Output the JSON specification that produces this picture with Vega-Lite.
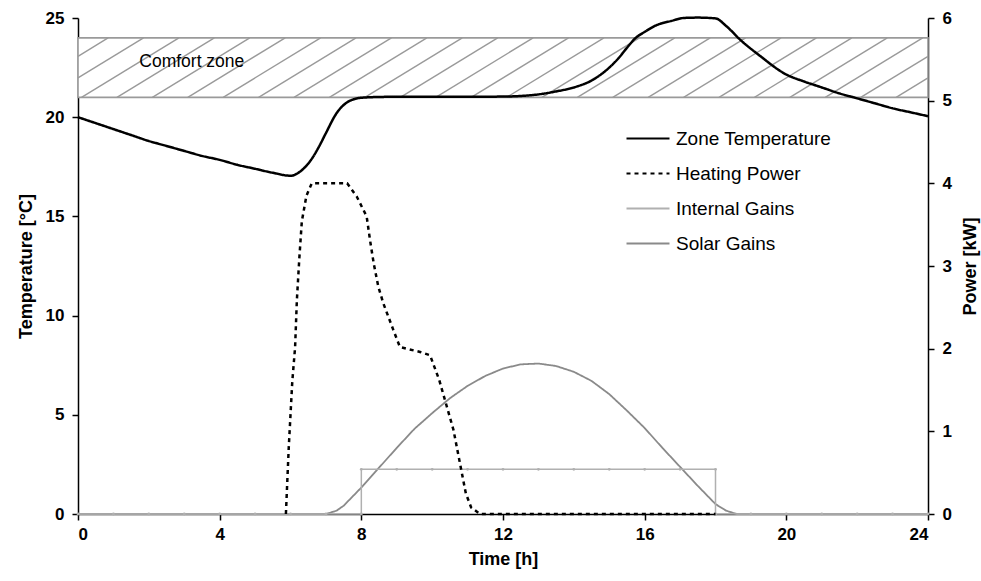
{
  "$schema": "https://vega.github.io/schema/vega-lite/v6.json",
  "width": 850,
  "height": 496,
  "autosize": {"type": "none"},
  "padding": {"left": 78, "top": 18, "right": 53, "bottom": 67},
  "background": "white",
  "config": {
    "view": {"stroke": null},
    "font": "Liberation Sans",
    "axis": {
      "grid": false,
      "domainColor": "#000",
      "domainWidth": 1.5,
      "tickColor": "#000",
      "tickWidth": 1.5,
      "tickSize": 6,
      "labelColor": "#000",
      "labelFont": "Liberation Sans",
      "labelFontSize": 17,
      "labelFontWeight": "bold",
      "titleColor": "#000",
      "titleFont": "Liberation Sans",
      "titleFontSize": 18,
      "titleFontWeight": "bold"
    },
    "legend": {
      "labelFont": "Liberation Sans",
      "labelFontSize": 19,
      "labelColor": "#000"
    }
  },
  "datasets": {
    "temp": [
      {"t": 0, "v": 20.0}, {"t": 0.5, "v": 19.7}, {"t": 1, "v": 19.4}, {"t": 1.5, "v": 19.1},
      {"t": 2, "v": 18.8}, {"t": 2.5, "v": 18.55}, {"t": 3, "v": 18.3}, {"t": 3.5, "v": 18.05},
      {"t": 4, "v": 17.85}, {"t": 4.5, "v": 17.6}, {"t": 5, "v": 17.4}, {"t": 5.5, "v": 17.2},
      {"t": 6, "v": 17.05}, {"t": 6.3, "v": 17.3}, {"t": 6.6, "v": 17.9}, {"t": 6.8, "v": 18.5},
      {"t": 7.0, "v": 19.2}, {"t": 7.3, "v": 20.2}, {"t": 7.6, "v": 20.75}, {"t": 8, "v": 20.98},
      {"t": 8.5, "v": 21.02}, {"t": 9, "v": 21.03}, {"t": 10, "v": 21.03}, {"t": 11, "v": 21.03},
      {"t": 12, "v": 21.04}, {"t": 12.5, "v": 21.07}, {"t": 13, "v": 21.15}, {"t": 13.5, "v": 21.3},
      {"t": 14, "v": 21.5}, {"t": 14.5, "v": 21.85}, {"t": 15, "v": 22.5}, {"t": 15.25, "v": 22.95},
      {"t": 15.5, "v": 23.5}, {"t": 15.75, "v": 24.0}, {"t": 16, "v": 24.3}, {"t": 16.35, "v": 24.65},
      {"t": 16.75, "v": 24.85}, {"t": 17.1, "v": 25.0}, {"t": 17.5, "v": 25.02}, {"t": 18.0, "v": 24.98},
      {"t": 18.3, "v": 24.6}, {"t": 18.7, "v": 23.9}, {"t": 19.25, "v": 23.1}, {"t": 20, "v": 22.15},
      {"t": 20.5, "v": 21.8}, {"t": 21, "v": 21.5}, {"t": 21.5, "v": 21.2}, {"t": 22, "v": 20.95},
      {"t": 22.5, "v": 20.7}, {"t": 23, "v": 20.45}, {"t": 23.5, "v": 20.25}, {"t": 24, "v": 20.05}
    ],
    "heating": [
      {"t": 5.87, "p": 0}, {"t": 5.95, "p": 0.8}, {"t": 6.05, "p": 1.6}, {"t": 6.13, "p": 2.02},
      {"t": 6.18, "p": 2.59}, {"t": 6.25, "p": 3.1}, {"t": 6.32, "p": 3.54}, {"t": 6.45, "p": 3.85},
      {"t": 6.6, "p": 4.0}, {"t": 7.6, "p": 4.0}, {"t": 7.87, "p": 3.84}, {"t": 8.15, "p": 3.6},
      {"t": 8.25, "p": 3.3}, {"t": 8.35, "p": 3.03}, {"t": 8.48, "p": 2.75}, {"t": 8.62, "p": 2.55},
      {"t": 8.9, "p": 2.23}, {"t": 9.09, "p": 2.02}, {"t": 9.66, "p": 1.96}, {"t": 9.94, "p": 1.92},
      {"t": 10.2, "p": 1.62}, {"t": 10.6, "p": 1.02}, {"t": 10.95, "p": 0.25}, {"t": 11.1, "p": 0.08},
      {"t": 11.35, "p": 0}, {"t": 18, "p": 0}
    ],
    "internal": [
      {"i": 0, "t": 0, "p": 0}, {"i": 1, "t": 1, "p": 0}, {"i": 2, "t": 2, "p": 0}, {"i": 3, "t": 3, "p": 0},
      {"i": 4, "t": 4, "p": 0}, {"i": 5, "t": 5, "p": 0}, {"i": 6, "t": 6, "p": 0}, {"i": 7, "t": 7, "p": 0},
      {"i": 8, "t": 8, "p": 0}, {"i": 9, "t": 8, "p": 0.54}, {"i": 10, "t": 9, "p": 0.54}, {"i": 11, "t": 10, "p": 0.54},
      {"i": 12, "t": 11, "p": 0.54}, {"i": 13, "t": 12, "p": 0.54}, {"i": 14, "t": 13, "p": 0.54}, {"i": 15, "t": 14, "p": 0.54},
      {"i": 16, "t": 15, "p": 0.54}, {"i": 17, "t": 16, "p": 0.54}, {"i": 18, "t": 17, "p": 0.54}, {"i": 19, "t": 18, "p": 0.54},
      {"i": 20, "t": 18, "p": 0}, {"i": 21, "t": 19, "p": 0}, {"i": 22, "t": 20, "p": 0}, {"i": 23, "t": 21, "p": 0},
      {"i": 24, "t": 22, "p": 0}, {"i": 25, "t": 23, "p": 0}, {"i": 26, "t": 24, "p": 0}
    ],
    "solar": [
      {"t": 0, "p": 0}, {"t": 2, "p": 0}, {"t": 4, "p": 0}, {"t": 6, "p": 0}, {"t": 7.0, "p": 0},
      {"t": 7.3, "p": 0.04}, {"t": 7.5, "p": 0.1}, {"t": 8, "p": 0.32}, {"t": 8.5, "p": 0.56},
      {"t": 9, "p": 0.8}, {"t": 9.5, "p": 1.03}, {"t": 10, "p": 1.22}, {"t": 10.5, "p": 1.4},
      {"t": 11, "p": 1.55}, {"t": 11.5, "p": 1.67}, {"t": 12, "p": 1.76}, {"t": 12.5, "p": 1.81},
      {"t": 13, "p": 1.82}, {"t": 13.5, "p": 1.79}, {"t": 14, "p": 1.72}, {"t": 14.5, "p": 1.61},
      {"t": 15, "p": 1.45}, {"t": 15.5, "p": 1.25}, {"t": 16, "p": 1.04}, {"t": 16.5, "p": 0.8},
      {"t": 17, "p": 0.57}, {"t": 17.5, "p": 0.34}, {"t": 18, "p": 0.12}, {"t": 18.3, "p": 0.04},
      {"t": 18.6, "p": 0}, {"t": 20, "p": 0}, {"t": 22, "p": 0}, {"t": 24, "p": 0}
    ],
    "hatch": [
      {"x1": 0, "y1": 23.07, "x2": 0.85, "y2": 24},
      {"x1": 0, "y1": 21.98, "x2": 1.85, "y2": 24},
      {"x1": 0.1, "y1": 21, "x2": 2.85, "y2": 24},
      {"x1": 1.1, "y1": 21, "x2": 3.85, "y2": 24},
      {"x1": 2.1, "y1": 21, "x2": 4.85, "y2": 24},
      {"x1": 3.1, "y1": 21, "x2": 5.85, "y2": 24},
      {"x1": 4.1, "y1": 21, "x2": 6.85, "y2": 24},
      {"x1": 5.1, "y1": 21, "x2": 7.85, "y2": 24},
      {"x1": 6.1, "y1": 21, "x2": 8.85, "y2": 24},
      {"x1": 7.1, "y1": 21, "x2": 9.85, "y2": 24},
      {"x1": 8.1, "y1": 21, "x2": 10.85, "y2": 24},
      {"x1": 9.1, "y1": 21, "x2": 11.85, "y2": 24},
      {"x1": 10.1, "y1": 21, "x2": 12.85, "y2": 24},
      {"x1": 11.1, "y1": 21, "x2": 13.85, "y2": 24},
      {"x1": 12.1, "y1": 21, "x2": 14.85, "y2": 24},
      {"x1": 13.1, "y1": 21, "x2": 15.85, "y2": 24},
      {"x1": 14.1, "y1": 21, "x2": 16.85, "y2": 24},
      {"x1": 15.1, "y1": 21, "x2": 17.85, "y2": 24},
      {"x1": 16.1, "y1": 21, "x2": 18.85, "y2": 24},
      {"x1": 17.1, "y1": 21, "x2": 19.85, "y2": 24},
      {"x1": 18.1, "y1": 21, "x2": 20.85, "y2": 24},
      {"x1": 19.1, "y1": 21, "x2": 21.85, "y2": 24},
      {"x1": 20.1, "y1": 21, "x2": 22.85, "y2": 24},
      {"x1": 21.1, "y1": 21, "x2": 23.85, "y2": 24},
      {"x1": 22.1, "y1": 21, "x2": 24, "y2": 23.07},
      {"x1": 23.1, "y1": 21, "x2": 24, "y2": 21.98}
    ],
    "zone": [{"x1": 0, "x2": 24, "y1": 21, "y2": 24, "label": "Comfort zone", "lx": 1.73, "ly": 22.77}]
  },
  "encoding": {
    "x": {
      "type": "quantitative",
      "scale": {"domain": [0, 24], "nice": false},
      "axis": {"values": [0, 4, 8, 12, 16, 20, 24], "title": "Time [h]", "labelPadding": 6, "titlePadding": 8}
    }
  },
  "layer": [
    {
      "layer": [
        {
          "data": {"name": "zone"},
          "mark": {"type": "rect", "fill": "white", "stroke": "#9a9a9a", "strokeWidth": 1.6},
          "encoding": {
            "x": {"field": "x1", "type": "quantitative"},
            "x2": {"field": "x2"},
            "y": {"field": "y1", "type": "quantitative", "scale": {"domain": [0, 25], "nice": false},
                  "axis": {"values": [0, 5, 10, 15, 20, 25], "title": "Temperature [°C]", "labelPadding": 8, "titlePadding": 10}},
            "y2": {"field": "y2"}
          }
        },
        {
          "data": {"name": "hatch"},
          "mark": {"type": "rule", "stroke": "#9a9a9a", "strokeWidth": 1.4},
          "encoding": {
            "x": {"field": "x1", "type": "quantitative"},
            "x2": {"field": "x2"},
            "y": {"field": "y1", "type": "quantitative"},
            "y2": {"field": "y2"}
          }
        },
        {
          "data": {"name": "zone"},
          "mark": {"type": "text", "align": "left", "baseline": "middle", "fontSize": 17.5, "font": "Liberation Sans", "color": "#000"},
          "encoding": {
            "x": {"field": "lx", "type": "quantitative"},
            "y": {"field": "ly", "type": "quantitative"},
            "text": {"field": "label"}
          }
        },
        {
          "data": {"name": "temp"},
          "transform": [{"calculate": "'Zone Temperature'", "as": "series"}],
          "mark": {"type": "line", "strokeWidth": 2.5, "interpolate": "monotone"},
          "encoding": {
            "x": {"field": "t", "type": "quantitative"},
            "y": {"field": "v", "type": "quantitative"},
            "color": {
              "field": "series", "type": "nominal",
              "scale": {"domain": ["Zone Temperature", "Heating Power", "Internal Gains", "Solar Gains"],
                        "range": ["#000000", "#000000", "#b0b0b0", "#8a8a8a"]},
              "legend": {
                "title": null, "orient": "none", "legendX": 547, "legendY": 103,
                "padding": 0, "symbolType": "stroke", "symbolSize": 1849, "symbolStrokeWidth": 2.2,
                "labelOffset": 5, "clipHeight": 35, "rowPadding": 0, "labelFontSize": 19, "labelLimit": 300
              }
            },
            "strokeDash": {
              "field": "series", "type": "nominal",
              "scale": {"domain": ["Zone Temperature", "Heating Power", "Internal Gains", "Solar Gains"],
                        "range": [[1, 0], [4, 4], [1, 0], [1, 0]]},
              "legend": {
                "title": null, "orient": "none", "legendX": 547, "legendY": 103,
                "padding": 0, "symbolType": "stroke", "symbolSize": 1849, "symbolStrokeWidth": 2.2,
                "labelOffset": 5, "clipHeight": 35, "rowPadding": 0, "labelFontSize": 19, "labelLimit": 300
              }
            }
          }
        }
      ]
    },
    {
      "encoding": {
        "y": {"type": "quantitative", "scale": {"domain": [0, 6], "nice": false},
              "axis": {"orient": "right", "values": [0, 1, 2, 3, 4, 5, 6], "title": "Power [kW]", "titleAngle": 270,
                       "titleX": 42, "titleY": 248, "titleAlign": "center", "titleBaseline": "middle", "labelPadding": 8}}
      },
      "layer": [
        {
          "data": {"name": "solar"},
          "transform": [{"calculate": "'Solar Gains'", "as": "series"}],
          "mark": {"type": "line", "strokeWidth": 1.8},
          "encoding": {
            "x": {"field": "t", "type": "quantitative"},
            "y": {"field": "p", "type": "quantitative"},
            "color": {"field": "series", "type": "nominal"},
            "strokeDash": {"field": "series", "type": "nominal"}
          }
        },
        {
          "data": {"name": "internal"},
          "transform": [{"calculate": "'Internal Gains'", "as": "series"}],
          "mark": {"type": "line", "strokeWidth": 1.5, "point": {"filled": true, "size": 8, "color": "#9a9a9a"}},
          "encoding": {
            "x": {"field": "t", "type": "quantitative"},
            "y": {"field": "p", "type": "quantitative"},
            "order": {"field": "i", "type": "quantitative"},
            "color": {"field": "series", "type": "nominal"},
            "strokeDash": {"field": "series", "type": "nominal"}
          }
        },
        {
          "data": {"name": "heating"},
          "transform": [{"calculate": "'Heating Power'", "as": "series"}],
          "mark": {"type": "line", "strokeWidth": 2.5},
          "encoding": {
            "x": {"field": "t", "type": "quantitative"},
            "y": {"field": "p", "type": "quantitative"},
            "color": {"field": "series", "type": "nominal"},
            "strokeDash": {"field": "series", "type": "nominal"}
          }
        }
      ]
    }
  ],
  "resolve": {"scale": {"y": "independent"}}
}
